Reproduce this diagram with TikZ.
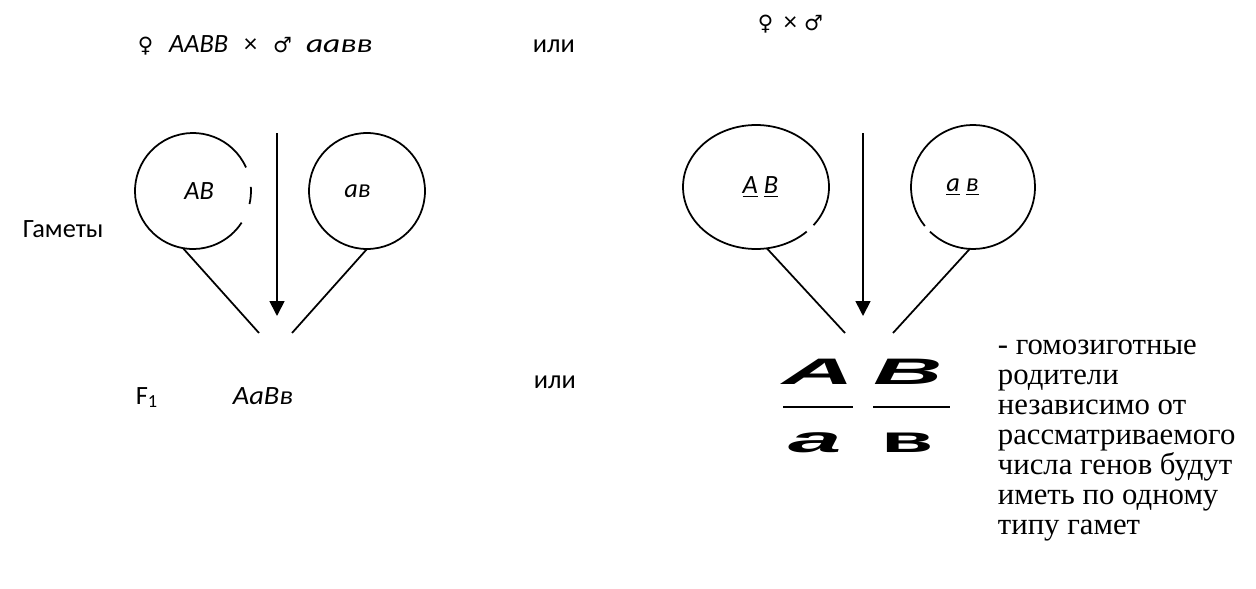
\documentclass[tikz,border=0pt]{standalone}
\usepackage{fontspec}
\setmainfont{Carlito}
\newfontfamily\timesfont{Liberation Serif}
\newfontfamily\symfont{DejaVu Sans}
\newfontfamily\heavyfont{Liberation Sans}
\usetikzlibrary{arrows.meta,shapes.geometric}
\newcommand{\fem}{{\fontsize{12}{14}\symfont\char"2640}}
\newcommand{\mal}{{\fontsize{12}{14}\symfont\char"2642}}
\newcommand{\widechar}[2][2.5]{\scalebox{#1}[1]{#2}}
\begin{document}
\begin{tikzpicture}[x=0.02cm,y=0.02cm,line width=1pt,
  lbl/.style={inner sep=0pt,font=\fontsize{15}{17}\selectfont},
  gamete/.style={circle,inner sep=0pt,outer sep=0pt,minimum size=2.32cm,
    font=\fontsize{15}{17}\selectfont\itshape},
  gamoval/.style={ellipse,inner sep=0pt,outer sep=0pt,minimum width=2.92cm,
    minimum height=2.48cm,font=\fontsize{15}{17}\selectfont\itshape},
  heavy/.style={inner sep=0pt,anchor=base,font=\fontsize{21}{21}\selectfont\heavyfont\bfseries},
  arr/.style={-{Triangle[width=0.3cm,length=0.3cm]}}]
\useasboundingbox (0,0) rectangle (1256,-588);

% crossing, first way
\node[lbl,anchor=base west] (cross) at (137,-53)
  {\fem\hspace{9pt}\textit{AABB}\hspace{9pt}\texttimes\hspace{9pt}\mal\hspace{8pt}\scalebox{1.27}[1]{\textit{aaвв}}};
\node[lbl,anchor=base west] (or1) at (532,-53) {или};
\node[lbl,anchor=base west] (gam) at (22,-237) {Гаметы};

\node[gamete] (gAB) at (193,-191) {\hspace{7pt}\raisebox{-2pt}{AB}};
\node[gamete,draw] (gab) at (367,-191) {\raisebox{-2pt}{aв}\hspace{11pt}\null};
\draw (gAB.24) arc[start angle=24,end angle=327,radius=58];
\draw (gAB.-13) arc[start angle=-13,end angle=4,radius=58];

\coordinate (aTop) at (277,-133);
\coordinate (aBot) at (277,-316);
\draw[arr] (aTop) -- (aBot);
\coordinate (jL) at (259,-333);
\coordinate (jR) at (292,-333);
\draw (gAB.260) -- (jL);
\draw (gab.270) -- (jR);

\node[lbl,anchor=base west] (fone) at (135,-404) {F\textsubscript{1}};
\node[lbl,anchor=base west] (hyb) at (232,-404) {\scalebox{1.08}[1]{\textit{AaBв}}};

% crossing, second way
\node[lbl,anchor=base west] (cross2) at (757,-31) {\fem\hspace{6pt}\texttimes\hspace{4pt}\mal};
\node[lbl,anchor=base west] (or2) at (533,-388) {или};

\node[gamoval] (eAB) at (756,-187) {\hspace{5pt}\raisebox{-2pt}{\underline{A} \underline{B}}};
\node[gamete,minimum size=2.48cm] (eab) at (973,-187) {\raisebox{-2pt}{\underline{a} \underline{в}}\hspace{12pt}\null};
\draw ([shift={(-38:73 and 62)}]eAB.center) arc[start angle=-38,end angle=314,x radius=73,y radius=62];
\draw (eab.226) arc[start angle=226,end angle=579,radius=62];

\coordinate (bTop) at (863,-133);
\coordinate (bBot) at (863,-316);
\draw[arr] (bTop) -- (bBot);
\coordinate (kL) at (845,-333);
\coordinate (kR) at (893,-333);
\draw (eAB.280) -- (kL);
\draw (eab.267) -- (kR);

% chromosome notation
\node[heavy] (cA) at (818,-384) {\widechar[2.7]{\itshape A}};
\node[heavy] (cB) at (908,-384) {\widechar[2.6]{\itshape B}};
\node[heavy] (ca) at (815,-452) {\widechar[2.6]{\itshape a}};
\node[heavy] (cb) at (908,-452) {\widechar[2.3]{в}};
\draw (783,-407) -- (853,-407);
\draw (873,-407) -- (950,-407);

\node[anchor=base west,inner sep=0pt,align=left,
  font=\fontsize{17.5}{17}\selectfont\timesfont] (note) at (997,-534)
  {- гомозиготные\\родители\\независимо от\\рассматриваемого\\числа генов будут\\иметь по одному\\типу гамет};
\end{tikzpicture}
\end{document}
